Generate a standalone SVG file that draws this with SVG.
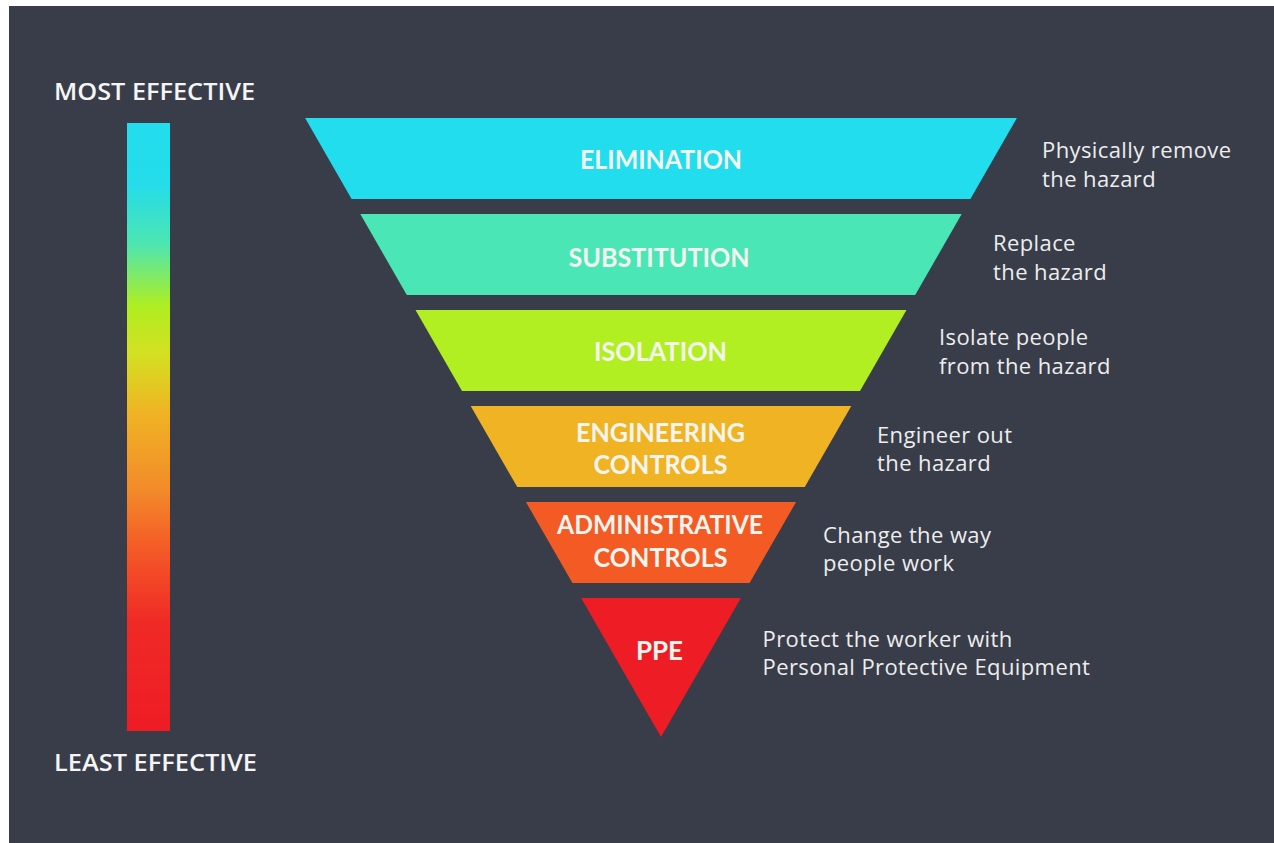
<svg xmlns="http://www.w3.org/2000/svg" width="1274" height="843" viewBox="0 0 1274 843">
<defs>
<linearGradient id="scale" x1="0" y1="0" x2="0" y2="1">
<stop offset="0" stop-color="#22DDEE"/>
<stop offset="0.1" stop-color="#24DCEA"/>
<stop offset="0.2" stop-color="#4DE6B0"/>
<stop offset="0.3" stop-color="#AEEE22"/>
<stop offset="0.38" stop-color="#D4E022"/>
<stop offset="0.48" stop-color="#F0B224"/>
<stop offset="0.6" stop-color="#F28C2A"/>
<stop offset="0.7" stop-color="#F45A26"/>
<stop offset="0.82" stop-color="#EF2A26"/>
<stop offset="1" stop-color="#EE1C25"/>
</linearGradient>
<style>
.lab{font-family:Lato,"Open Sans",sans-serif;font-weight:700;fill:#F5F5EF;text-anchor:middle;font-size:26px}
.head{font-family:"Open Sans","Noto Sans",sans-serif;font-weight:600;fill:#F5F5F5;font-size:24px}
.desc{font-family:"Open Sans","Noto Sans",sans-serif;font-weight:400;fill:#EDEDED;font-size:22px;letter-spacing:0.4px}
</style>
</defs>
<rect x="0" y="0" width="1274" height="843" fill="#FFFFFF"/>
<rect x="9" y="6" width="1265" height="837" fill="#383D49"/>

<g id="scale-bar">
<rect x="127" y="123" width="43" height="608" fill="url(#scale)"/>
<text class="head" x="54" y="100" textLength="201" lengthAdjust="spacingAndGlyphs">MOST EFFECTIVE</text>
<text class="head" x="54" y="771" textLength="203" lengthAdjust="spacingAndGlyphs">LEAST EFFECTIVE</text>
</g>

<g id="elimination">
<polygon points="305.1,118 1016.9,118 970.4,199 351.6,199" fill="#22DDEE"/>
<text class="lab" x="661" y="168.5" textLength="162" lengthAdjust="spacingAndGlyphs">ELIMINATION</text>
<text class="desc" x="1042" y="158">Physically remove</text>
<text class="desc" x="1042" y="186.5">the hazard</text>
</g>

<g id="substitution">
<polygon points="360.3,214 961.7,214 915.2,295 406.8,295" fill="#4BE6B6"/>
<text class="lab" x="659" y="266.5" textLength="181" lengthAdjust="spacingAndGlyphs">SUBSTITUTION</text>
<text class="desc" x="993" y="251">Replace</text>
<text class="desc" x="993" y="279.5">the hazard</text>
</g>

<g id="isolation">
<polygon points="415.5,310 906.5,310 860,391 462,391" fill="#B1EE22"/>
<text class="lab" x="660.5" y="360.5" textLength="133" lengthAdjust="spacingAndGlyphs">ISOLATION</text>
<text class="desc" x="939" y="345">Isolate people</text>
<text class="desc" x="939" y="373.5">from the hazard</text>
</g>

<g id="engineering-controls">
<polygon points="470.7,406 851.3,406 804.75,487 517.25,487" fill="#F0B323"/>
<text class="lab" x="660.5" y="441.5" textLength="169" lengthAdjust="spacingAndGlyphs">ENGINEERING</text>
<text class="lab" x="660.5" y="473.5" textLength="134" lengthAdjust="spacingAndGlyphs">CONTROLS</text>
<text class="desc" x="877" y="442.5">Engineer out</text>
<text class="desc" x="877" y="470.5">the hazard</text>
</g>

<g id="administrative-controls">
<polygon points="525.9,502 796.1,502 749.55,583 572.45,583" fill="#F35A24"/>
<text class="lab" x="660" y="534" textLength="206" lengthAdjust="spacingAndGlyphs">ADMINISTRATIVE</text>
<text class="lab" x="660.5" y="567" textLength="134" lengthAdjust="spacingAndGlyphs">CONTROLS</text>
<text class="desc" x="823" y="542.5">Change the way</text>
<text class="desc" x="823" y="570.5">people work</text>
</g>

<g id="ppe">
<polygon points="581.1,598 740.9,598 661,737" fill="#EE1C25"/>
<text class="lab" x="659.5" y="659.5" textLength="47" lengthAdjust="spacingAndGlyphs">PPE</text>
<text class="desc" x="762.5" y="646.5">Protect the worker with</text>
<text class="desc" x="762.5" y="675">Personal Protective Equipment</text>
</g>

<g id="connectors"/>
</svg>
